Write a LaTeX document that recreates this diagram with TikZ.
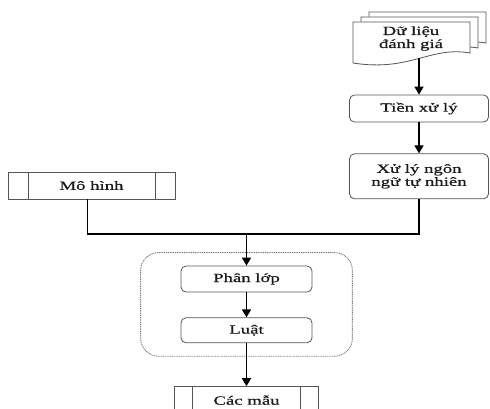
\documentclass[tikz,border=0pt]{standalone}
\usepackage{fontspec}
\setmainfont[FakeStretch=1.5, FakeBold=0.6]{Liberation Serif}
\usepackage{tikz}
\usetikzlibrary{arrows.meta, positioning, fit}
\definecolor{edge}{HTML}{555555}
\definecolor{ink}{HTML}{1A1A1A}

\begin{document}
\begin{tikzpicture}[x=1pt, y=-1pt, >={Triangle[width=9pt,length=8pt]}, font=\fontsize{12.5}{13}\selectfont, text=ink,
    predef/.style={rectangle, draw=edge, fill=white, minimum height=27pt, line width=0.8pt,
        path picture={
            \draw [edge, line width=0.8pt] ([xshift=#1]path picture bounding box.north west) -- ([xshift=#1]path picture bounding box.south west);
            \draw [edge, line width=0.8pt] ([xshift=-#1]path picture bounding box.north east) -- ([xshift=-#1]path picture bounding box.south east);
        }},
    predef/.default=20pt]
        \tikzstyle{block} = [rectangle, draw=edge, fill=white, rounded corners=5pt, minimum width=139pt, text centered, align=center, line width=0.8pt, inner sep=0pt]
        \tikzstyle{group} = [rectangle, draw=edge!80, dash pattern=on 1pt off 0.8pt, rounded corners=18pt, line width=0.9pt]
        \tikzstyle{flow} = [draw, ->, line width=1.5pt, color=black]
        \tikzstyle{link} = [draw, line width=1.5pt, color=black]

        \useasboundingbox (0,0) rectangle (490,409);

        % stacked documents
        \foreach \dx/\dy in {16/-10, 8/-5, 0/0}
            \draw [edge, fill=white, line width=0.8pt, shift={(\dx,\dy)}] (353,22) -- (470,22) -- (470,53) .. controls (430,46) and (410,72) .. (353,63) -- cycle;
        \node [align=center] (data) at (411,38.5) {Dữ liệu\\đánh giá};
        \coordinate (data-bot) at (419,58.5);

        \node [block, minimum height=27pt] (prep) at (419,108.5) {Tiền xử lý};
        \node [block, minimum height=45pt, below=31pt of prep] (nlp) {Xử lý ngôn\\ngữ tự nhiên};
        \node [predef, minimum width=167pt] (model) at (91.5,185.5) {Mô hình};
        \node [block, minimum width=131pt, minimum height=26pt] (classify) at (246.5,279) {Phân lớp};
        \node [block, minimum width=131pt, minimum height=25pt, below=25pt of classify] (rules) {Luật};
        \node [group, fit=(classify)(rules), inner xsep=40pt, inner ysep=13pt] (stage) {};
        \node [predef=18pt, minimum width=144pt, below=43pt of rules] (samples) {Các mẫu};

        \coordinate (join) at (246.5,234);

        \path [flow] (data-bot) -- (prep);
        \path [flow] (prep) -- (nlp);
        \path [link] (nlp) |- (join);
        \path [link] ([xshift=-4pt]model.south) |- (join);
        \path [flow] (join) -- (classify);
        \path [flow] (classify) -- (rules);
        \path [flow] (rules) -- (samples);
    \end{tikzpicture}
\end{document}
